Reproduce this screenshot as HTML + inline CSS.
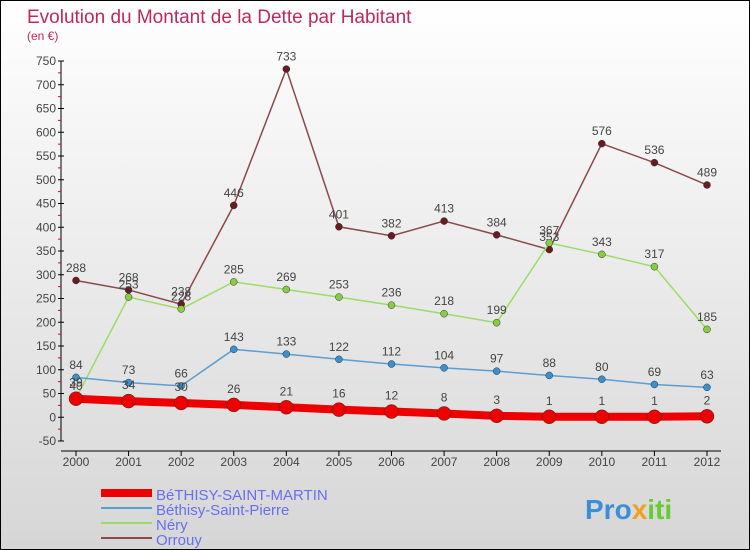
<!DOCTYPE html>
<html><head><meta charset="utf-8"><style>
body{margin:0}
#c{width:748px;height:548px;border:1px solid #000;background:linear-gradient(#fff,#d6d6d6);position:relative;font-family:"Liberation Sans",sans-serif;overflow:hidden}
</style></head><body>
<div id="c">
<svg id="s" width="748" height="548">
<text x="26" y="22" font-size="19" fill="#c0285a">Evolution du Montant de la Dette par Habitant</text>
<text x="26" y="39" font-size="12" fill="#c0285a">(en €)</text>
<g id="axes"></g><g id="series"></g>
<g>
<line x1="100" y1="492" x2="151" y2="492" stroke="#e00" stroke-width="8"/>
<text x="155" y="499" font-size="15" fill="#6670ee">BéTHISY-SAINT-MARTIN</text>
<line x1="100" y1="507" x2="151" y2="507" stroke="#5a9fd0" stroke-width="2"/>
<text x="155" y="514" font-size="15" fill="#6670ee">Béthisy-Saint-Pierre</text>
<line x1="100" y1="522" x2="151" y2="522" stroke="#99dd66" stroke-width="2"/>
<text x="155" y="529" font-size="15" fill="#6670ee">Néry</text>
<line x1="100" y1="537" x2="151" y2="537" stroke="#8a4a4a" stroke-width="2"/>
<text x="155" y="544" font-size="15" fill="#6670ee">Orrouy</text>
</g>
<text x="584" y="518" font-size="28" font-weight="bold" fill="#3a8fd8">Pro<tspan fill="#f0a020">x</tspan><tspan fill="#6c3">iti</tspan></text>
</svg>
</div>
<script>
const years=[2000,2001,2002,2003,2004,2005,2006,2007,2008,2009,2010,2011,2012];
const yTicks=[-50,0,50,100,150,200,250,300,350,400,450,500,550,600,650,700,750];
const bsm=[39,34,30,26,21,16,12,8,3,1,1,1,2];
const bsp=[84,73,66,143,133,122,112,104,97,88,80,69,63];
const nery=[40,253,228,285,269,253,236,218,199,367,343,317,185];
const orrouy=[288,268,238,446,733,401,382,413,384,353,576,536,489];
const NS="http://www.w3.org/2000/svg";
function X(i){return 75+i*(706-75)/(years.length-1);}
function Y(v){return 416.25-v*0.475;}
function mk(t,a,p){const e=document.createElementNS(NS,t);for(const k in a)e.setAttribute(k,a[k]);p.appendChild(e);return e;}
const ax=document.getElementById('axes');
let l=mk('line',{x1:60,y1:Y(750),x2:60,y2:Y(-50),stroke:'#000'},ax);


yTicks.forEach(v=>{mk('line',{x1:57,x2:63,y1:Y(v),y2:Y(v),stroke:'#000'},ax);
if(v<750)mk('line',{x1:57,x2:60,y1:Y(v+25),y2:Y(v+25),stroke:'#e00'},ax);
const t=mk('text',{x:55,y:Y(v)+4,'font-size':12,'text-anchor':'end',fill:'#444'},ax);t.textContent=v;

});
l=mk('line',{x1:60,y1:450,x2:720,y2:450,stroke:'#000'},ax);


years.forEach((y,i)=>{mk('line',{x1:X(i),x2:X(i),y1:450,y2:455,stroke:'#000'},ax);
const t=mk('text',{x:X(i),y:465,'font-size':12,'text-anchor':'middle',fill:'#444'},ax);t.textContent=y;

});
const sg=document.getElementById('series');
function series(d,col,w,r,dot,name){
const g=mk('g',{},sg);


mk('polyline',{points:d.map((v,i)=>X(i)+','+Y(v)).join(' '),fill:'none',stroke:col,'stroke-width':w},g);
d.forEach((v,i)=>{const c=mk('circle',{cx:X(i),cy:Y(v),r:r,fill:dot,stroke:'#333','stroke-width':0.5},g);


const t=mk('text',{x:X(i),y:Y(v)-(r+5),'font-size':12,'text-anchor':'middle',fill:'#444'},g);t.textContent=v;

});}
series(orrouy,'#8a4a4a',1.5,3.5,'#6a1a22','series-orrouy');
series(nery,'#99dd66',1.5,3.5,'#88cc44','series-nery');
series(bsp,'#5a9fd0',1.5,3.5,'#3a8fd0','series-bethisy-saint-pierre');
series(bsm,'#ee0000',8,7,'#ee0000','series-bethisy-saint-martin');
</script>
</body></html>
